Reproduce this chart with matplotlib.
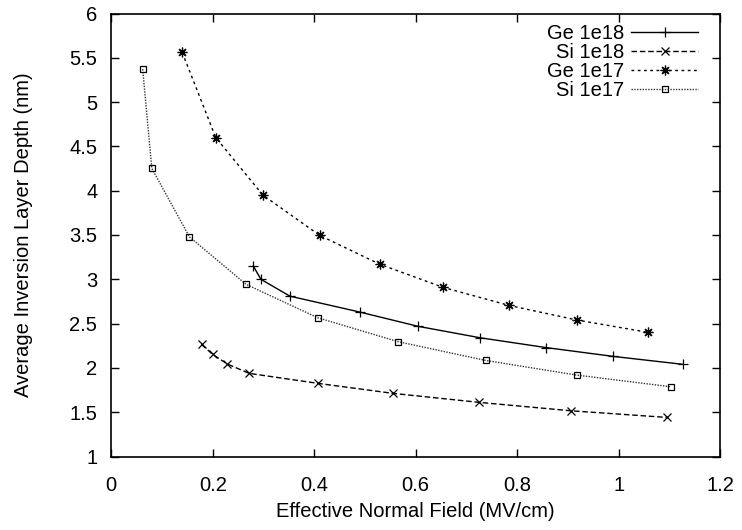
import matplotlib
matplotlib.use("Agg")
import matplotlib.pyplot as plt

plt.rcParams["font.family"] = ["Liberation Sans", "DejaVu Sans"]

# data
ge18_x = [0.280, 0.295, 0.352, 0.490, 0.604, 0.727, 0.856, 0.989, 1.127]
ge18_y = [3.15, 3.00, 2.81, 2.63, 2.47, 2.34, 2.23, 2.13, 2.04]

si18_x = [0.178, 0.200, 0.229, 0.272, 0.408, 0.556, 0.725, 0.906, 1.095]
si18_y = [2.265, 2.152, 2.043, 1.938, 1.825, 1.712, 1.611, 1.516, 1.441]

ge17_x = [0.140, 0.206, 0.299, 0.411, 0.530, 0.654, 0.784, 0.918, 1.058]
ge17_y = [5.56, 4.60, 3.95, 3.495, 3.168, 2.909, 2.705, 2.54, 2.401]

si17_x = [0.062, 0.080, 0.154, 0.266, 0.407, 0.566, 0.738, 0.917, 1.103]
si17_y = [5.372, 4.252, 3.48, 2.942, 2.566, 2.295, 2.084, 1.919, 1.787]

xticks = [0, 0.2, 0.4, 0.6, 0.8, 1, 1.2]
yticks = [1, 1.5, 2, 2.5, 3, 3.5, 4, 4.5, 5, 5.5, 6]

fs = 14.5

fig = plt.figure(figsize=(7.42, 5.30), dpi=100)
ax = fig.add_axes([111.2 / 742, 1 - 456.5 / 530, 609 / 742, 443 / 530])

ax.plot(ge18_x, ge18_y, color="black", lw=1, marker="+", ms=7, mew=0.9,
        label="Ge 1e18")
ax.plot(si18_x, si18_y, color="black", lw=1, dashes=(4, 2), marker="x", ms=6,
        mew=0.9, label="Si 1e18")
ax.plot(ge17_x, ge17_y, color="black", lw=1, dashes=(2, 2.5), marker=(8, 2, 0),
        ms=7, mew=0.9, label="Ge 1e17")
ax.plot(si17_x, si17_y, color="#333333", lw=1, dashes=(1, 1), marker="s", ms=5,
        mfc="none", mec="black", mew=0.9, label="Si 1e17")

ax.set_xlim(0, 1.2)
ax.set_ylim(1, 6)
ax.set_xticks(xticks)
ax.set_xticklabels(["0", "0.2", "0.4", "0.6", "0.8", "1", "1.2"])
ax.set_yticks(yticks)
ax.set_yticklabels(["1", "1.5", "2", "2.5", "3", "3.5", "4", "4.5", "5", "5.5", "6"])
ax.tick_params(direction="in", top=True, right=True, length=6, width=1,
               labelsize=fs)
ax.tick_params(axis="x", pad=14)
ax.tick_params(axis="y", pad=10)
for s in ax.spines.values():
    s.set_linewidth(1.2)

ax.set_xlabel("Effective Normal Field (MV/cm)", fontsize=fs, labelpad=5)
ax.set_ylabel("Average Inversion Layer Depth (nm)", fontsize=fs, labelpad=26)

ax.legend(loc="upper right", frameon=False, markerfirst=False, fontsize=fs,
          handlelength=3.3, handletextpad=0.35, labelspacing=0.0,
          borderaxespad=0.1, bbox_to_anchor=(0.98, 1.0))

fig.savefig("out.png", dpi=100)
